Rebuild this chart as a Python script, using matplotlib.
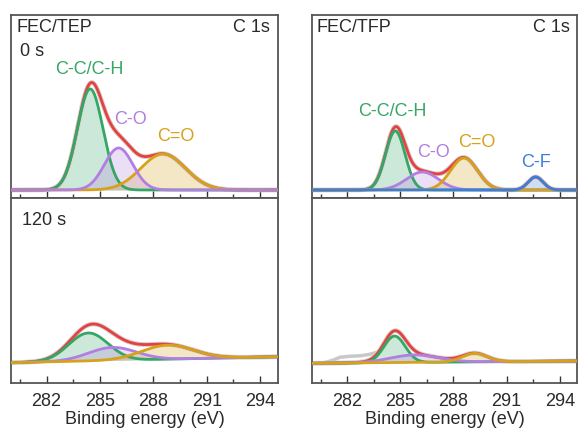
import numpy as np
import matplotlib.pyplot as plt
from matplotlib.ticker import MultipleLocator

plt.rcParams['font.family'] = ['Liberation Sans', 'DejaVu Sans']

# Ajustes de picos (centro eV, altura, sigma)
tep0_names = ["C-C/C-H", "C=O", "C-O"]
tep0_center = [284.45, 288.55, 286.05]
tep0_height = [101, 36, 42]
tep0_sigma = [0.72, 1.25, 0.8]
tep0_bg = [0.0, 0.0]

tfp0_names = ["C-C/C-H", "C-O", "C=O", "C-F"]
tfp0_center = [284.72, 286.25, 288.6, 292.64]
tfp0_height = [59, 18, 32, 13]
tfp0_sigma = [0.55, 0.9, 0.76, 0.42]
tfp0_bg = [0.0, 0.0]

tep120_names = ["C-C/C-H", "C-O", "C=O"]
tep120_center = [284.35, 285.7, 288.8]
tep120_height = [28, 13, 14]
tep120_sigma = [1.1, 1.35, 1.45]
tep120_bg = [0.0, 6.0]

tfp120_names = ["C-C/C-H", "C-O", "C=O"]
tfp120_center = [284.68, 285.8, 289.2]
tfp120_height = [26.5, 7.5, 8.5]
tfp120_sigma = [0.6, 1.35, 0.7]
tfp120_bg = [-0.6, 1.7]

# datos crudos que se salen del ajuste (FEC/TFP 120 s)
raw_x = [280.8, 281.2, 281.6, 282.2, 282.8, 283.3, 283.7]
raw_y = [0.5, 2.5, 5.5, 6.5, 7.0, 8.5, 10.5]

colors = {"C-C/C-H": "#35a665", "C-O": "#b27ee2", "C=O": "#d6a21c",
          "C-F": "#3d7ed8"}
red = "#e8403e"
txt = "#2a2a2a"

x = np.linspace(280, 295, 800)


def draw(ax, names, center, height, sigma, bg, ylim):
    base = np.interp(x, [280, 295], bg)
    total = base.copy()
    for n, c, h, s in zip(names, center, height, sigma):
        g = h * np.exp(-(x - c) ** 2 / (2 * s ** 2))
        total += g
        ax.fill_between(x, base, base + g, color=colors[n], alpha=0.25, lw=0)
    ax.plot(x, total, color="#d0d0d0", lw=3.4, zorder=2)
    ax.plot(x, total, color=red, lw=2.0, zorder=3)
    for n, c, h, s in zip(names, center, height, sigma):
        g = h * np.exp(-(x - c) ** 2 / (2 * s ** 2))
        ax.plot(x, base + g, color=colors[n], lw=2.0, zorder=4)
    ax.set_xlim(280, 295)
    ax.set_ylim(*ylim)
    ax.set_yticks([])
    ax.xaxis.set_major_locator(MultipleLocator(3))
    ax.xaxis.set_minor_locator(MultipleLocator(1.5))
    ax.tick_params(axis='x', which='major', direction='in', length=5, width=1,
                   labelsize=13, pad=7, color="#333333", labelcolor=txt)
    ax.tick_params(axis='x', which='minor', direction='in', length=3, width=1,
                   color="#333333")
    for sp in ax.spines.values():
        sp.set_color("#555555")
        sp.set_linewidth(1.3)


fig = plt.figure(figsize=(5.79, 4.32), dpi=100)
ax1 = fig.add_axes([0.019, 0.5417, 0.461, 0.4236])
ax2 = fig.add_axes([0.5383, 0.5417, 0.459, 0.4236])
ax3 = fig.add_axes([0.019, 0.1134, 0.461, 0.4283])
ax4 = fig.add_axes([0.5383, 0.1134, 0.459, 0.4283])

top_lim = (-8, 175)
bot_lim = (-20.3, 164.7)
draw(ax1, tep0_names, tep0_center, tep0_height, tep0_sigma, tep0_bg, top_lim)
draw(ax2, tfp0_names, tfp0_center, tfp0_height, tfp0_sigma, tfp0_bg, top_lim)
ax4.plot(raw_x, raw_y, color="#c8c8c8", lw=2.5, zorder=1)
draw(ax3, tep120_names, tep120_center, tep120_height, tep120_sigma, tep120_bg, bot_lim)
draw(ax4, tfp120_names, tfp120_center, tfp120_height, tfp120_sigma, tfp120_bg, bot_lim)

for ax in (ax1, ax2):
    ax.tick_params(axis='x', labelbottom=False)
for ax in (ax3, ax4):
    ax.set_xlabel("Binding energy (eV)", fontsize=13, labelpad=1, color=txt)

fs = 13
ax1.text(0.022, 0.929, "FEC/TEP", transform=ax1.transAxes, fontsize=fs, va='center', color=txt)
ax1.text(0.970, 0.929, "C 1s", transform=ax1.transAxes, fontsize=fs, va='center', ha='right', color=txt)
ax1.text(0.034, 0.798, "0 s", transform=ax1.transAxes, fontsize=fs, va='center', color=txt)
ax2.text(0.019, 0.929, "FEC/TFP", transform=ax2.transAxes, fontsize=fs, va='center', color=txt)
ax2.text(0.972, 0.929, "C 1s", transform=ax2.transAxes, fontsize=fs, va='center', ha='right', color=txt)
ax3.text(0.040, 0.881, "120 s", transform=ax3.transAxes, fontsize=fs, va='center', color=txt)

ax1.text(284.42, 120, "C-C/C-H", color=colors["C-C/C-H"], fontsize=fs, ha='center', va='center')
ax1.text(286.69, 70, "C-O", color=colors["C-O"], fontsize=fs, ha='center', va='center')
ax1.text(289.27, 53, "C=O", color=colors["C=O"], fontsize=fs, ha='center', va='center')
ax2.text(284.53, 78, "C-C/C-H", color=colors["C-C/C-H"], fontsize=fs, ha='center', va='center')
ax2.text(286.85, 37, "C-O", color=colors["C-O"], fontsize=fs, ha='center', va='center')
ax2.text(289.33, 47, "C=O", color=colors["C=O"], fontsize=fs, ha='center', va='center')
ax2.text(292.66, 27, "C-F", color=colors["C-F"], fontsize=fs, ha='center', va='center')

fig.savefig("out.png", dpi=100)
